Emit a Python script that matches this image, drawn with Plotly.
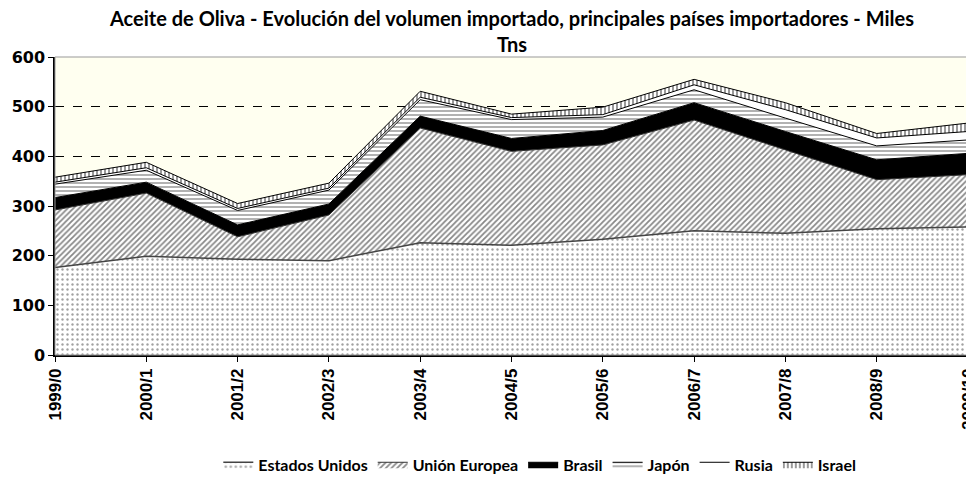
import plotly.graph_objects as go

years = ["1999/0", "2000/1", "2001/2", "2002/3", "2003/4", "2004/5",
         "2005/6", "2006/7", "2007/8", "2008/9", "2009/10"]
estados_unidos = [176, 199, 193, 190, 226, 221, 233, 250, 245, 254, 258]
union_europea = [116, 127, 45, 92, 231, 189, 190, 223, 168, 99, 105]
brasil = [25, 22, 24, 22, 24, 26, 29, 35, 37, 40, 43]
japon = [27, 24, 29, 28, 33, 38, 27, 26, 27, 28, 27]
rusia = [4, 5, 4, 4, 5, 4, 5, 10, 17, 16, 17]
israel = [10, 11, 10, 10, 12, 7, 15, 11, 14, 9, 17]
y_ticks = [0, 100, 200, 300, 400, 500, 600]
title_text = "Aceite de Oliva - Evolución del volumen importado, principales países importadores - Miles<br>Tns"

series = [
    ("Estados Unidos", estados_unidos, dict(shape=".", fgcolor="#444444", bgcolor="white", size=5, solidity=0.18), "#444444", 1.5),
    ("Unión Europea", union_europea, dict(shape="/", fgcolor="#111111", bgcolor="white", size=4, solidity=0.45), "#333333", 1),
    ("Brasil", brasil, None, "#000000", 1),
    ("Japón", japon, dict(shape="-", fgcolor="#222222", bgcolor="white", size=4, solidity=0.35), "#000000", 1),
    ("Rusia", rusia, None, "#000000", 1),
    ("Israel", israel, dict(shape="|", fgcolor="#000000", bgcolor="white", size=4, solidity=0.4), "#000000", 1),
]
fills = {"Brasil": "#000000", "Rusia": "#FFFFFF"}

fig = go.Figure()
for name, vals, pat, lc, lw in series:
    kw = dict(x=years, y=vals, name=name, mode="lines", stackgroup="one",
              line=dict(color=lc, width=lw))
    if pat is not None:
        kw["fillpattern"] = pat
        kw["fillcolor"] = "white"
    else:
        kw["fillcolor"] = fills[name]
    fig.add_trace(go.Scatter(**kw))

text_font = "Lato, Open Sans, sans-serif"
fig.update_layout(
    width=974, height=485,
    margin=dict(l=47, r=14, t=49, b=138, autoexpand=False),
    paper_bgcolor="white",
    plot_bgcolor="#FFFFF0",
    legend=dict(
        orientation="h", x=0.531, xanchor="center", y=-0.31, yanchor="top",
        font=dict(family=text_font, size=16, color="black", weight="bold"),
        traceorder="normal", itemwidth=30,
    ),
    showlegend=True,
)
fig.add_annotation(
    text=title_text, xref="paper", yref="paper", x=0.5, y=1, xanchor="center",
    yanchor="bottom", yshift=-1, showarrow=False, align="center",
    font=dict(family=text_font, size=20, color="black", weight="bold"),
)
fig.update_xaxes(
    type="category", range=[0, len(years) - 1], tickangle=-90, automargin=False,
    showline=True, linecolor="black", linewidth=1.5,
    ticks="outside", ticklen=5, tickcolor="black",
    showgrid=False, mirror=False,
    tickfont=dict(family="Liberation Sans, Arial, sans-serif", size=17, color="black", weight="bold"),
)
fig.update_yaxes(
    range=[0, 600], tickvals=y_ticks, automargin=False,
    showline=True, linecolor="black", linewidth=1.5,
    ticks="outside", ticklen=5, tickcolor="black",
    showgrid=True, gridcolor="black", griddash="dash", gridwidth=1,
    zeroline=False,
    tickfont=dict(family="DejaVu Sans, sans-serif", size=16, color="black", weight="bold"),
)
fig.add_shape(type="rect", xref="paper", yref="paper", x0=0, y0=0, x1=1, y1=1,
              line=dict(color="#999999", width=1), layer="above")

fig.write_html("out.html")
